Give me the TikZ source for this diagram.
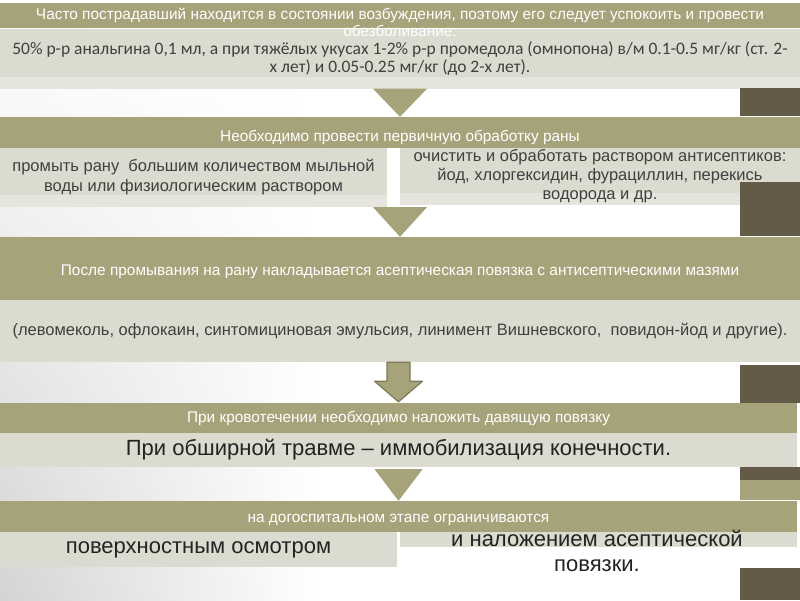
\documentclass[tikz,border=0pt]{standalone}
\usepackage{fontspec}
\setmainfont{Liberation Sans}
\newfontfamily\calfont{Carlito}
\usepackage{xcolor}
\usetikzlibrary{positioning,calc,shadings}

\definecolor{olivehdr}{RGB}{166,163,122}
\definecolor{bodygrey}{RGB}{219,219,208}
\definecolor{stripgrey}{RGB}{229,229,221}
\definecolor{darkbrown}{RGB}{99,91,72}
\definecolor{arrowedge}{RGB}{125,121,90}
\definecolor{txtgrey}{RGB}{64,64,64}
\definecolor{txtdark}{RGB}{35,35,35}

\begin{document}
\begin{tikzpicture}[x=1pt,y=-1pt,
  hdr/.style={fill=olivehdr, text=white, inner sep=0pt, align=center, font=\fontsize{15.4}{18}\selectfont},
  bodybox/.style={fill=bodygrey, text=txtgrey, inner sep=0pt, align=center, font=\fontsize{16.5}{20}\selectfont},
  lightstrip/.style={path picture={\fill[stripgrey] (path picture bounding box.south west) rectangle ([yshift=12pt]path picture bounding box.south east);}},
  bigtext/.style={font=\fontsize{22}{25}\selectfont, text=txtdark},
  chev/.style={fill=olivehdr},
  blockarr/.style={fill=olivehdr, draw=arrowedge, line width=1.2pt, line join=round},
  darkbar/.style={fill=darkbrown}]
\useasboundingbox (0,0) rectangle (800,600);
% background with grey fade at lower left
\fill[white] (0,0) rectangle (800,600);
\shade[upper left=white, upper right=white, lower left=black!17, lower right=white] (0,0) rectangle (320,600);

% step 1: calm down and relieve pain
\node[hdr, minimum width=800pt, minimum height=25pt] (hd1) at (400,15.5) {Часто пострадавший находится в состоянии возбуждения, поэтому его следует успокоить и провести};
\node[bodybox, lightstrip, minimum width=800pt, minimum height=60pt, font=\calfont\fontsize{17.5}{18}\selectfont] (bd1) at (400,58.5) {50\% р-р анальгина 0,1 мл, а при тяжёлых укусах 1-2\% р-р промедола (омнопона) в/м 0.1-0.5 мг/кг (ст. 2-\\х лет) и 0.05-0.25 мг/кг (до 2-х лет).};
\node[font=\fontsize{15.4}{18}\selectfont, text=white, inner sep=0pt] (hd1b) at (400,31) {обезболивание:};

% step 2: primary treatment
\node[hdr, minimum width=800pt, minimum height=31pt, text height=20pt, text depth=3pt] (hd2) at (400,132.5) {Необходимо провести первичную обработку раны};
\node[bodybox, lightstrip, minimum width=387pt, minimum height=59pt, font=\fontsize{16.5}{20}\selectfont] (bd2l) at (193.5,177.5) {промыть рану\ \ большим количеством мыльной\\воды или физиологическим раствором};
\node[bodybox, lightstrip, minimum width=400pt, minimum height=57pt, font=\fontsize{16.5}{19}\selectfont] (bd2r) at (600,176) {очистить и обработать раствором антисептиков:\\йод, хлоргексидин, фурациллин, перекись\\водорода и др.};

% step 3: aseptic dressing
\node[hdr, minimum width=800pt, minimum height=63pt, text height=16pt, text depth=3pt] (hd3) at (400,268.5) {После промывания на рану накладывается асептическая повязка с антисептическими мазями};
\node[bodybox, minimum width=800pt, minimum height=62pt] (bd3) at (400,331) {(левомеколь, офлокаин, синтомициновая эмульсия, линимент Вишневского,\ \ повидон-йод и другие).};

% step 4: bleeding
\node[hdr, minimum width=797pt, minimum height=30pt] (hd4) at (398.5,418) {При кровотечении необходимо наложить давящую повязку};
\node[bodybox, bigtext, minimum width=797pt, minimum height=34pt] (bd4) at (398.5,450) {При обширной травме – иммобилизация конечности.};

% step 5: pre-hospital stage
\node[hdr, minimum width=797pt, minimum height=31pt, text height=14pt, text depth=3pt] (hd5) at (398.5,516.5) {на догоспитальном этапе ограничиваются};
\node[bodybox, bigtext, minimum width=397pt, minimum height=35pt] (bd5l) at (198.5,549.5) {поверхностным осмотром};
\node[bodybox, minimum width=397pt, minimum height=15pt] (bd5r) at (598.5,539.5) {};
\node[bigtext, align=center, inner sep=0pt] (tx5r) at (597,551) {и наложением асептической\\повязки.};

% down arrows between the steps
\fill[chev] ([xshift=-27pt]bd1.south) -- ([xshift=27pt]bd1.south) -- (hd2.north) -- cycle;
\coordinate (a2) at (hd3.north |- bd2l.south);
\fill[chev] ([xshift=-27pt]a2) -- ([xshift=27pt]a2) -- (hd3.north) -- cycle;
\coordinate (a3) at (hd4.north |- bd3.south);
\filldraw[blockarr] ([xshift=-11.5pt]a3) -- ([xshift=11.5pt]a3) -- ([xshift=11.5pt,yshift=-19pt]a3)
  -- ([xshift=24pt,yshift=-19pt]a3) -- ([yshift=1pt]hd4.north) -- ([xshift=-24pt,yshift=-19pt]a3)
  -- ([xshift=-11.5pt,yshift=-19pt]a3) -- cycle;
\coordinate (a4) at (hd5.north |- bd4.south);
\fill[chev] ([xshift=-24pt,yshift=-2pt]a4) -- ([xshift=24pt,yshift=-2pt]a4) -- (hd5.north) -- cycle;

% dark bars on the right edge
\foreach \ya/\yb in {88/116, 182/236, 365/403, 467/480, 568/600}
  \fill[darkbar] (740,\ya) rectangle (800,\yb);
\fill[olivehdr] (740,480) rectangle (800,500);
\end{tikzpicture}
\end{document}
